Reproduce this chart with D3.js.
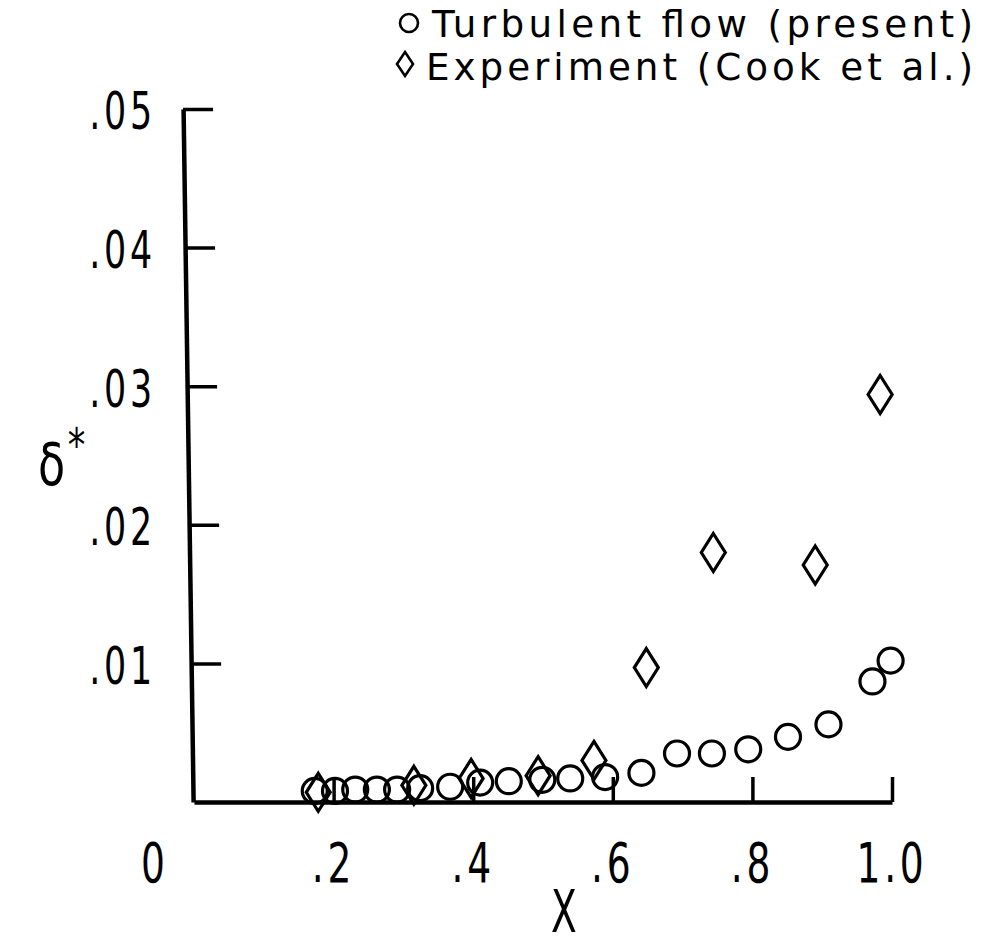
<!DOCTYPE html>
<html>
<head>
<meta charset="utf-8">
<script src="https://cdn.jsdelivr.net/npm/d3@7"></script>
<style>
  html, body { margin: 0; padding: 0; background: #fff; }
  svg { display: block; }
  text { font-family: "DejaVu Sans Condensed", "DejaVu Sans", sans-serif; fill: #000; }
</style>
</head>
<body>
<svg id="chart" width="983" height="946"></svg>
<script>
// Displacement thickness along the surface: computed turbulent flow vs. experiment
const turbulentX = [0.173, 0.202, 0.231, 0.262, 0.291, 0.324, 0.367, 0.410, 0.451, 0.499,
                    0.539, 0.589, 0.641, 0.692, 0.742, 0.794, 0.851, 0.909, 0.972, 0.998];
const turbulentDelta = [0.0008, 0.0008, 0.0009, 0.0009, 0.0009, 0.0010, 0.0011, 0.0014, 0.0015, 0.0016,
                        0.0017, 0.0018, 0.0021, 0.0035, 0.0035, 0.0038, 0.0047, 0.0056, 0.0087, 0.0102];

const experimentX = [0.178, 0.315, 0.397, 0.493, 0.573, 0.648, 0.744, 0.890, 0.983];
const experimentDelta = [0.0007, 0.0012, 0.0017, 0.0019, 0.0030, 0.0097, 0.0180, 0.0171, 0.0294];

const xTickValues = [0.2, 0.4, 0.6, 0.8, 1.0];
const xTickLabels = [".2", ".4", ".6", ".8", "1.0"];
const yTickValues = [0.01, 0.02, 0.03, 0.04, 0.05];
const yTickLabels = [".01", ".02", ".03", ".04", ".05"];
const originLabel = "0";

const legendLabels = ["Turbulent flow (present)", "Experiment (Cook et al.)"];
const xTitle = "X";

const svg = d3.select("#chart");

const x = d3.scaleLinear().domain([0, 1]).range([194, 892]);
const y = d3.scaleLinear().domain([0, 0.05]).range([802, 109]);

// Lettering is tall and narrow: squeeze glyphs horizontally around their anchor
const squeeze = 0.76;
function place(px, py, sx = squeeze) {
  return `translate(${px},${py}) scale(${sx},1)`;
}

// Diamond marker, taller than wide
function diamond(hw, hh) {
  return `M0,${-hh}L${hw},0L0,${hh}L${-hw},0Z`;
}

// Horizontal axis: ticks point up into the plot
const xAxis = d3.axisBottom(x)
  .tickValues(xTickValues)
  .tickSizeInner(-25)
  .tickSizeOuter(0)
  .tickFormat("");
const gx = svg.append("g")
  .attr("transform", `translate(0,${y(0)})`)
  .call(xAxis);
gx.select(".domain").attr("stroke", "#000").attr("stroke-width", 4.5);
gx.selectAll(".tick line").attr("stroke", "#000").attr("stroke-width", 3.5);

// Vertical axis: the drawn line leans slightly, so the group is skewed a touch
const yAxis = d3.axisLeft(y)
  .tickValues(yTickValues)
  .tickSizeInner(-30)
  .tickSizeOuter(0)
  .tickFormat("");
const gy = svg.append("g")
  .attr("transform", `translate(181.5,0) skewX(0.83)`)
  .call(yAxis);
gy.select(".domain").attr("stroke", "#000").attr("stroke-width", 4.5);
gy.selectAll(".tick line").attr("stroke", "#000").attr("stroke-width", 3.5);

// Tick labels
svg.append("g").selectAll("text")
  .data(yTickValues)
  .join("text")
  .attr("transform", d => place(156, y(d) + 3))
  .attr("text-anchor", "end")
  .attr("dominant-baseline", "central")
  .attr("font-size", 51)
  .attr("letter-spacing", 5)
  .text((d, i) => yTickLabels[i]);

svg.append("g").selectAll("text")
  .data(xTickValues)
  .join("text")
  .attr("transform", d => place(x(d), 882))
  .attr("text-anchor", "middle")
  .attr("font-size", 55)
  .attr("letter-spacing", 5)
  .text((d, i) => xTickLabels[i]);

svg.append("text")
  .attr("transform", place(x(0) - 41, 882))
  .attr("text-anchor", "middle")
  .attr("font-size", 55)
  .text(originLabel);

// Axis titles
svg.append("text")
  .attr("transform", place(x(0.53), 932, 0.72))
  .attr("text-anchor", "middle")
  .attr("font-size", 58)
  .text(xTitle);

const yTitle = svg.append("text")
  .attr("transform", place(38, 485, 0.85))
  .attr("font-size", 58);
yTitle.append("tspan").text("δ");
yTitle.append("tspan")
  .attr("dx", 3)
  .attr("dy", -24)
  .attr("font-size", 46)
  .text("*");

// Data markers
const plot = svg.append("g").attr("fill", "none").attr("stroke", "#000").attr("stroke-width", 3.2);

plot.selectAll("circle")
  .data(turbulentX)
  .join("circle")
  .attr("cx", d => x(d))
  .attr("cy", (d, i) => y(turbulentDelta[i]))
  .attr("r", 12.5);

plot.selectAll("path")
  .data(experimentX)
  .join("path")
  .attr("transform", (d, i) => `translate(${x(d)},${y(experimentDelta[i])})`)
  .attr("d", diamond(12, 19));

// Legend
const legend = svg.append("g");
legend.append("circle")
  .attr("cx", 409).attr("cy", 23).attr("r", 9)
  .attr("fill", "none").attr("stroke", "#000").attr("stroke-width", 2.6);
legend.append("path")
  .attr("transform", "translate(405,64)")
  .attr("d", diamond(8, 12))
  .attr("fill", "none").attr("stroke", "#000").attr("stroke-width", 2.6);

const legendStart = [432, 426];
const legendWidth = [541, 547];
const legendBase = [37, 80];
const legendStretch = 1.12;
legend.selectAll("text")
  .data(legendLabels)
  .join("text")
  .attr("transform", (d, i) => place(legendStart[i], legendBase[i], legendStretch))
  .attr("font-size", 37)
  .attr("textLength", (d, i) => legendWidth[i] / legendStretch)
  .attr("lengthAdjust", "spacing")
  .text(d => d);
</script>
</body>
</html>
